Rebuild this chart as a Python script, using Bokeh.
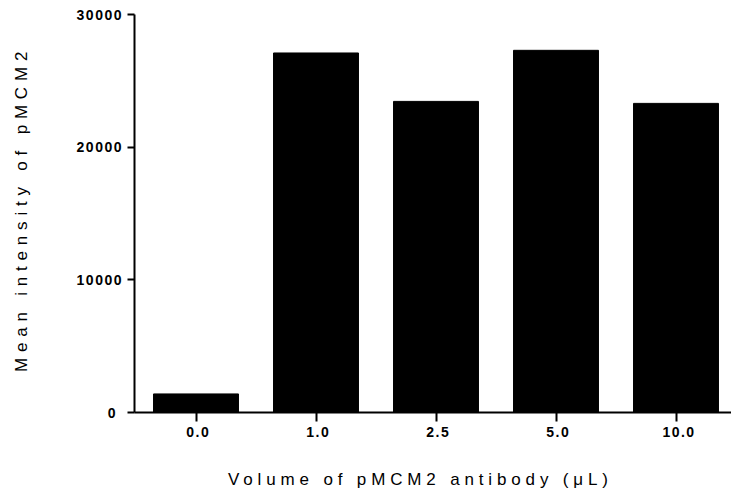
from bokeh.plotting import figure
from bokeh.layouts import row, column
from bokeh.models import FixedTicker, NumeralTickFormatter, InlineStyleSheet, Div
from bokeh.embed import file_html
from bokeh.resources import INLINE

# Antibody volume (µL) and mean pMCM2 intensity for each condition
volumes = ["0.0", "1.0", "2.5", "5.0", "10.0"]
intensity = [1400, 27100, 23450, 27300, 23300]
y_ticks = [0, 10000, 20000, 30000]

x_title = "Volume of pMCM2 antibody (\u03bcL)"
y_title = "Mean intensity of pMCM2"

positions = list(range(len(volumes)))
font = "Liberation Sans"

p = figure(
    width=691, height=460,
    output_backend="svg", toolbar_location=None,
    x_range=(-0.5125, 4.4625), y_range=(0, 30000),
    min_border_left=94, min_border_right=0,
    min_border_top=14, min_border_bottom=48,
)
# slightly tracked tick labels
p.stylesheets = [InlineStyleSheet(css=":host { letter-spacing: 1.5px; }")]

p.vbar(x=positions, top=intensity, width=0.708, bottom=0,
       fill_color="black", line_color="black")

p.grid.visible = False
p.outline_line_color = None
p.background_fill_color = "white"
p.border_fill_color = "white"

xa = p.xaxis[0]
xa.ticker = FixedTicker(ticks=positions)
xa.major_label_overrides = {i: v for i, v in zip(positions, volumes)}

ya = p.yaxis[0]
ya.ticker = FixedTicker(ticks=y_ticks)
ya.formatter = NumeralTickFormatter(format="0")

for ax in (xa, ya):
    ax.axis_line_color = "black"
    ax.axis_line_width = 2
    ax.major_tick_line_color = "black"
    ax.major_tick_line_width = 2
    ax.major_tick_in = 0
    ax.minor_tick_line_color = None
    ax.major_label_text_font = font
    ax.major_label_text_font_style = "bold"
    ax.major_label_text_font_size = "14px"
    ax.major_label_text_color = "black"

xa.major_tick_out = 9
xa.major_label_standoff = 5
ya.major_tick_out = 7
ya.major_label_standoff = 12

# axis titles, widely tracked
title_css = (f"font-family: '{font}'; font-size: 17px; color: black; "
             "white-space: nowrap; box-sizing: border-box; margin: 0;")

x_div = Div(
    width=691, height=41, margin=0,
    text=(f'<div style="{title_css} letter-spacing: 4.85px; line-height: 20px; '
          f'padding-left: 188px; padding-top: 10px; width: 691px; height: 41px;">'
          f'{x_title}</div>'),
)

y_div = Div(
    width=40, height=501, margin=0,
    text=(f'<div style="{title_css} letter-spacing: 5.8px; line-height: 20px; '
          'writing-mode: vertical-rl; transform: rotate(180deg); '
          'padding-top: 129px; padding-right: 12px; width: 40px; height: 501px;">'
          f'{y_title}</div>'),
)

layout = row(y_div, column(p, x_div, spacing=0), spacing=0)

open("out.html", "w").write(file_html(layout, INLINE))
